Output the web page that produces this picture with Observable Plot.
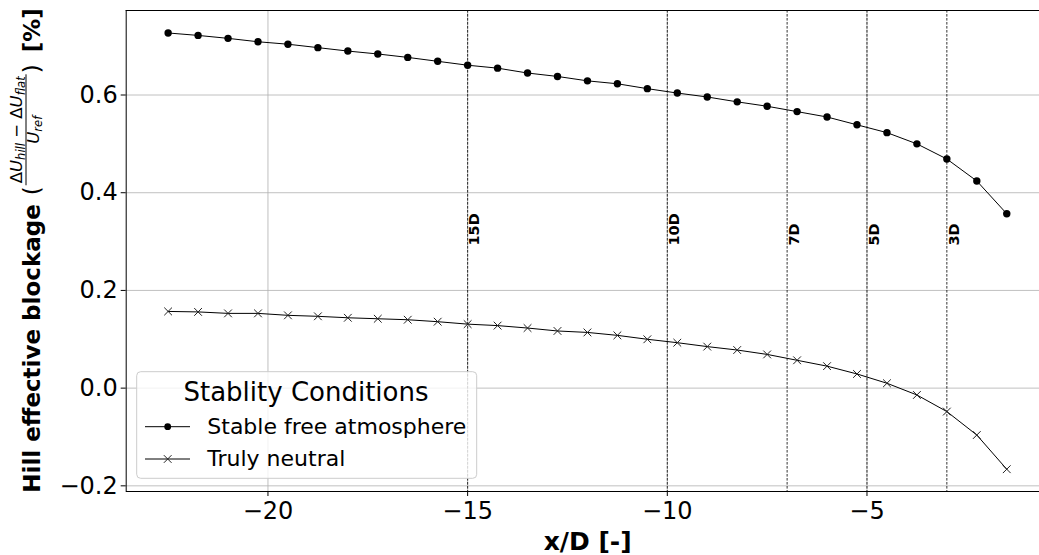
<!DOCTYPE html>
<html>
<head>
<meta charset="utf-8">
<script src="https://cdn.jsdelivr.net/npm/d3@7"></script>
<script src="https://cdn.jsdelivr.net/npm/@observablehq/plot@0.6"></script>
<style>
  html, body { margin: 0; padding: 0; background: #fff; }
  #chart { width: 1039px; height: 555px; position: relative; }
  #chart svg { font-family: "DejaVu Sans", sans-serif; display: block; }
</style>
</head>
<body>
<div id="chart"></div>
<script>
// Upstream distance from the hill, in rotor diameters
const xPositions = [-22.5, -21.75, -21, -20.25, -19.5, -18.75, -18, -17.25, -16.5, -15.75,
                    -15, -14.25, -13.5, -12.75, -12, -11.25, -10.5, -9.75, -9, -8.25,
                    -7.5, -6.75, -6, -5.25, -4.5, -3.75, -3, -2.25, -1.5];

// Hill effective blockage [%] for each stability condition
const stableValues = [0.727, 0.722, 0.716, 0.709, 0.704, 0.697, 0.690, 0.684, 0.677, 0.669,
                      0.661, 0.655, 0.645, 0.638, 0.629, 0.623, 0.613, 0.604, 0.596, 0.586,
                      0.577, 0.566, 0.555, 0.539, 0.523, 0.500, 0.469, 0.424, 0.357];
const neutralValues = [0.157, 0.156, 0.153, 0.153, 0.149, 0.147, 0.144, 0.142, 0.140, 0.136,
                       0.131, 0.128, 0.123, 0.117, 0.114, 0.108, 0.100, 0.093, 0.085, 0.078,
                       0.069, 0.057, 0.045, 0.029, 0.010, -0.014, -0.048, -0.096, -0.166];

const seriesNames = ["Stable free atmosphere", "Truly neutral"];
const legendTitle = "Stablity Conditions";

// Reference turbine distances marked with dashed lines
const distanceMarks = [-15, -10, -7, -5, -3];
const distanceLabels = ["15D", "10D", "7D", "5D", "3D"];
const distanceLabelLevel = 0.292;

const xTicks = [-20, -15, -10, -5];
const yTicks = [-0.2, 0.0, 0.2, 0.4, 0.6];
const xDomain = [-23.55, -0.68];
const yDomain = [-0.2116, 0.773];

const stable = xPositions.map((x, i) => ({x, y: stableValues[i]}));
const neutral = xPositions.map((x, i) => ({x, y: neutralValues[i]}));

const gridStyle = {stroke: "#b0b0b0", strokeOpacity: 1, strokeWidth: 0.8};

const chart = Plot.plot({
  width: 1039,
  height: 555,
  marginLeft: 125.7,
  marginRight: 0,
  marginTop: 10,
  marginBottom: 64,
  style: {fontFamily: "DejaVu Sans, sans-serif", background: "#fff", color: "#000", overflow: "visible"},
  x: {domain: xDomain},
  y: {domain: yDomain},
  marks: [
    Plot.gridX(xTicks, gridStyle),
    Plot.gridY(yTicks, gridStyle),
    Plot.ruleX(distanceMarks, {stroke: "#000", strokeWidth: 0.8, strokeDasharray: "2.6,1.4"}),
    Plot.text(distanceMarks, {
      x: d => d,
      y: () => distanceLabelLevel,
      text: (d, i) => distanceLabels[i],
      rotate: -90,
      textAnchor: "start",
      lineAnchor: "top",
      dx: 1.5,
      fontWeight: "bold",
      fontSize: 14.5,
      fill: "#000"
    }),
    Plot.line(stable, {x: "x", y: "y", stroke: "#000", strokeWidth: 1}),
    Plot.dot(stable, {x: "x", y: "y", fill: "#000", r: 3.7}),
    Plot.line(neutral, {x: "x", y: "y", stroke: "#000", strokeWidth: 1}),
    Plot.dot(neutral, {x: "x", y: "y", symbol: "times", stroke: "#222", strokeWidth: 1, r: 3.6}),
    Plot.axisX(xTicks, {
      anchor: "bottom", tickSize: 5, tickPadding: 5.5, fontSize: 24,
      tickFormat: d3.format("d"), label: null, stroke: "#000"
    }),
    Plot.axisY(yTicks, {
      anchor: "left", tickSize: 5, tickPadding: 3.5, fontSize: 24,
      tickFormat: d3.format(".1f"), label: null, stroke: "#000"
    }),
    // axes frame: left, bottom and top spines
    Plot.ruleX([xDomain[0]], {stroke: "#000", strokeWidth: 1}),
    Plot.ruleY(yDomain, {stroke: "#000", strokeWidth: 1})
  ]
});

document.getElementById("chart").append(chart);
const svg = d3.select(chart);

// x axis title
svg.append("text")
  .attr("x", 587.7).attr("y", 549.5)
  .attr("text-anchor", "middle")
  .attr("font-size", 25).attr("font-weight", "bold").attr("fill", "#000")
  .text("x/D [-]");

// y axis title with the blockage fraction, laid out bottom-to-top
const yTitle = svg.append("g").attr("transform", "rotate(-90)")
  .attr("fill", "#000").attr("text-anchor", "start");
const mainBase = 39.5, numBase = 22, barPos = 26, denBase = 39;
const fracSize = 16.5, subSize = 11.5;

const part1 = yTitle.append("text").attr("y", mainBase).attr("text-anchor", "start")
  .attr("font-size", 23).attr("font-weight", "bold").text("Hill effective blockage");
const openP = yTitle.append("text").attr("y", mainBase).attr("text-anchor", "start")
  .attr("font-size", 23).text("(");

const num = yTitle.append("text").attr("y", numBase).attr("font-size", fracSize).attr("text-anchor", "middle");
num.append("tspan").text("Δ");
num.append("tspan").attr("font-style", "italic").text("U");
num.append("tspan").attr("font-style", "italic").attr("font-size", subSize).attr("dy", 3).text("hill");
num.append("tspan").attr("dy", -3).text(" − Δ");
num.append("tspan").attr("font-style", "italic").text("U");
num.append("tspan").attr("font-style", "italic").attr("font-size", subSize).attr("dy", 3).text("flat");

const den = yTitle.append("text").attr("y", denBase).attr("font-size", fracSize).attr("text-anchor", "middle");
den.append("tspan").attr("font-style", "italic").text("U");
den.append("tspan").attr("font-style", "italic").attr("font-size", subSize).attr("dy", 3).text("ref");

const bar = yTitle.append("line").attr("stroke", "#000").attr("stroke-width", 1)
  .attr("y1", barPos).attr("y2", barPos);
const closeP = yTitle.append("text").attr("y", mainBase).attr("text-anchor", "start")
  .attr("font-size", 23).text(")");
const unit = yTitle.append("text").attr("y", mainBase).attr("text-anchor", "start")
  .attr("font-size", 23).attr("font-weight", "bold").text("[%]");

const w1 = part1.node().getComputedTextLength();
const wo = openP.node().getComputedTextLength();
const wn = num.node().getComputedTextLength();
const wd = den.node().getComputedTextLength();
const wf = Math.max(wn, wd) + 4;
const wc = closeP.node().getComputedTextLength();
const wu = unit.node().getComputedTextLength();
const gapA = 9, gapB = 1, gapC = 12;
const total = w1 + gapA + wo + gapB + wf + gapB + wc + gapC + wu;
let cx = -250.5 - total / 2;
part1.attr("x", cx); cx += w1 + gapA;
openP.attr("x", cx); cx += wo + gapB;
num.attr("x", cx + wf / 2); den.attr("x", cx + wf / 2);
bar.attr("x1", cx).attr("x2", cx + wf); cx += wf + gapB;
closeP.attr("x", cx); cx += wc + gapC;
unit.attr("x", cx);

// legend
const lg = svg.append("g").attr("text-anchor", "start");
lg.append("rect")
  .attr("x", 136.7).attr("y", 371.7).attr("width", 340).attr("height", 106.6).attr("rx", 4)
  .attr("fill", "#fff").attr("fill-opacity", 0.8).attr("stroke", "#cccccc").attr("stroke-width", 1);
lg.append("text")
  .attr("x", 306).attr("y", 400.7).attr("text-anchor", "middle")
  .attr("font-size", 26).attr("fill", "#000").text(legendTitle);
const rowsY = [426.7, 459];
rowsY.forEach((yy, i) => {
  lg.append("line").attr("x1", 145).attr("x2", 190).attr("y1", yy).attr("y2", yy)
    .attr("stroke", "#000").attr("stroke-width", 1);
  if (i === 0) {
    lg.append("circle").attr("cx", 167.7).attr("cy", yy).attr("r", 3.4).attr("fill", "#000");
  } else {
    lg.append("path").attr("transform", `translate(167.7,${yy})`)
      .attr("d", d3.symbol(d3.symbolTimes, 40)())
      .attr("fill", "none").attr("stroke", "#222").attr("stroke-width", 1);
  }
  lg.append("text").attr("x", 207.3).attr("y", yy + 7).attr("text-anchor", "start")
    .attr("font-size", 22).attr("fill", "#000").text(seriesNames[i]);
});
</script>
</body>
</html>
